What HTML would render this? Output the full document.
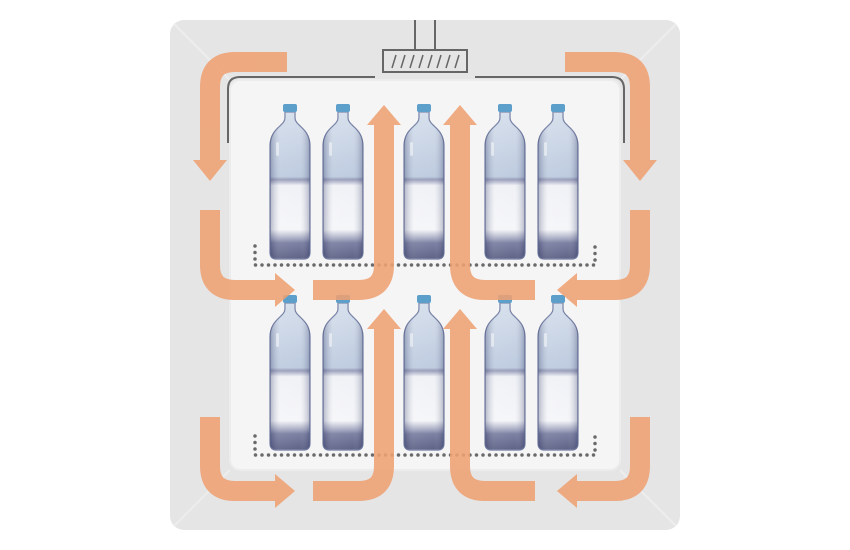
<!DOCTYPE html>
<html><head><meta charset="utf-8"><style>html,body{margin:0;padding:0;background:#fff}svg{display:block}</style></head>
<body>
<svg width="850" height="550" viewBox="0 0 850 550" xmlns="http://www.w3.org/2000/svg">
<defs>
<linearGradient id="bg" x1="0" y1="0" x2="0" y2="1">
<stop offset="0" stop-color="#d2dcea"/><stop offset="0.44" stop-color="#b7c6dc"/>
<stop offset="0.46" stop-color="#8e93b2"/><stop offset="0.5" stop-color="#eef0f5"/>
<stop offset="0.8" stop-color="#f4f5f8"/><stop offset="0.86" stop-color="#9fa3bd"/>
<stop offset="0.89" stop-color="#6e7399"/><stop offset="1" stop-color="#4d5178"/>
</linearGradient>
<linearGradient id="bh" x1="0" y1="0" x2="1" y2="0">
<stop offset="0" stop-color="#39406a" stop-opacity="0.35"/><stop offset="0.25" stop-color="#fff" stop-opacity="0.15"/>
<stop offset="0.75" stop-color="#fff" stop-opacity="0.1"/><stop offset="1" stop-color="#39406a" stop-opacity="0.35"/>
</linearGradient>
<g id="bt">
<path d="M -5 8 L -5 14 C -5 22 -20 24 -20 42 L -20 148 Q -20 155 -14 155 L 14 155 Q 20 155 20 148 L 20 42 C 20 24 5 22 5 14 L 5 8 Z" fill="url(#bg)" stroke="#6f7aa0" stroke-width="1.2"/>
<path d="M -5 8 L -5 14 C -5 22 -20 24 -20 42 L -20 148 Q -20 155 -14 155 L 14 155 Q 20 155 20 148 L 20 42 C 20 24 5 22 5 14 L 5 8 Z" fill="url(#bh)"/>
<rect x="-7" y="0" width="14" height="8" rx="2" fill="#5b9fca"/>
<rect x="-14" y="38" width="3" height="14" rx="1.5" fill="#fff" opacity="0.5"/>
</g>
</defs>
<!-- outer -->
<rect x="170" y="20" width="510" height="510" rx="14" fill="#e5e5e5"/>
<g stroke="#ededed" stroke-width="2"><line x1="174" y1="24" x2="230" y2="80"/><line x1="676" y1="24" x2="620" y2="80"/><line x1="174" y1="526" x2="230" y2="470"/><line x1="676" y1="526" x2="620" y2="470"/></g>
<rect x="230" y="80" width="390" height="390" rx="10" fill="#f5f5f5" stroke="#ececec" stroke-width="2"/>
<!-- vent -->
<g stroke="#666" stroke-width="2" fill="none">
<path d="M415 20 V50 M435 20 V50"/>
<rect x="383" y="50" width="84" height="22"/>
<path d="M375 77 H240 Q228 77 228 89 V143"/>
<path d="M475 77 H612 Q624 77 624 89 V143"/>
</g>
<g stroke="#666" stroke-width="1.5"><path d="M392 68 l4 -13 M401 68 l4 -13 M410 68 l4 -13 M419 68 l4 -13 M428 68 l4 -13 M437 68 l4 -13 M446 68 l4 -13 M455 68 l4 -13"/></g>
<!-- shelves -->
<g stroke="#6a6a6a" stroke-width="3.5" stroke-linecap="round" stroke-dasharray="0 6.5" fill="none">
<path d="M255 246 V265 H595 V246"/>
<path d="M255 436 V455 H595 V436"/>
</g>
<!-- bottles -->
<g>
<use href="#bt" x="290" y="104"/><use href="#bt" x="343" y="104"/><use href="#bt" x="424" y="104"/><use href="#bt" x="505" y="104"/><use href="#bt" x="558" y="104"/>
<use href="#bt" x="290" y="295"/><use href="#bt" x="343" y="295"/><use href="#bt" x="424" y="295"/><use href="#bt" x="505" y="295"/><use href="#bt" x="558" y="295"/>
</g>
<!-- arrows -->
<g opacity="0.88">
<g fill="none" stroke="#efa173" stroke-width="20">
<path d="M287 62 H235 Q210 62 210 87 V161"/>
<path d="M210 210 V265 Q210 290 235 290 H276"/>
<path d="M313 290 H359 Q384 290 384 265 V124"/>
<path d="M535 290 H485 Q460 290 460 265 V124"/>
<path d="M565 62 H615 Q640 62 640 87 V161"/>
<path d="M640 210 V265 Q640 290 615 290 H576"/>
<path d="M210 417 V466 Q210 491 235 491 H276"/>
<path d="M313 491 H359 Q384 491 384 466 V328"/>
<path d="M535 491 H485 Q460 491 460 466 V328"/>
<path d="M640 417 V466 Q640 491 615 491 H576"/>
</g>
<g fill="#efa173">
<polygon points="193,160 227,160 210,181"/>
<polygon points="275,273 275,307 295,290"/>
<polygon points="367,125 401,125 384,105"/>
<polygon points="443,125 477,125 460,105"/>
<polygon points="623,160 657,160 640,181"/>
<polygon points="577,273 577,307 557,290"/>
<polygon points="275,474 275,508 295,491"/>
<polygon points="367,329 401,329 384,309"/>
<polygon points="443,329 477,329 460,309"/>
<polygon points="577,474 577,508 557,491"/>
</g>
</g>
</svg>
</body></html>
